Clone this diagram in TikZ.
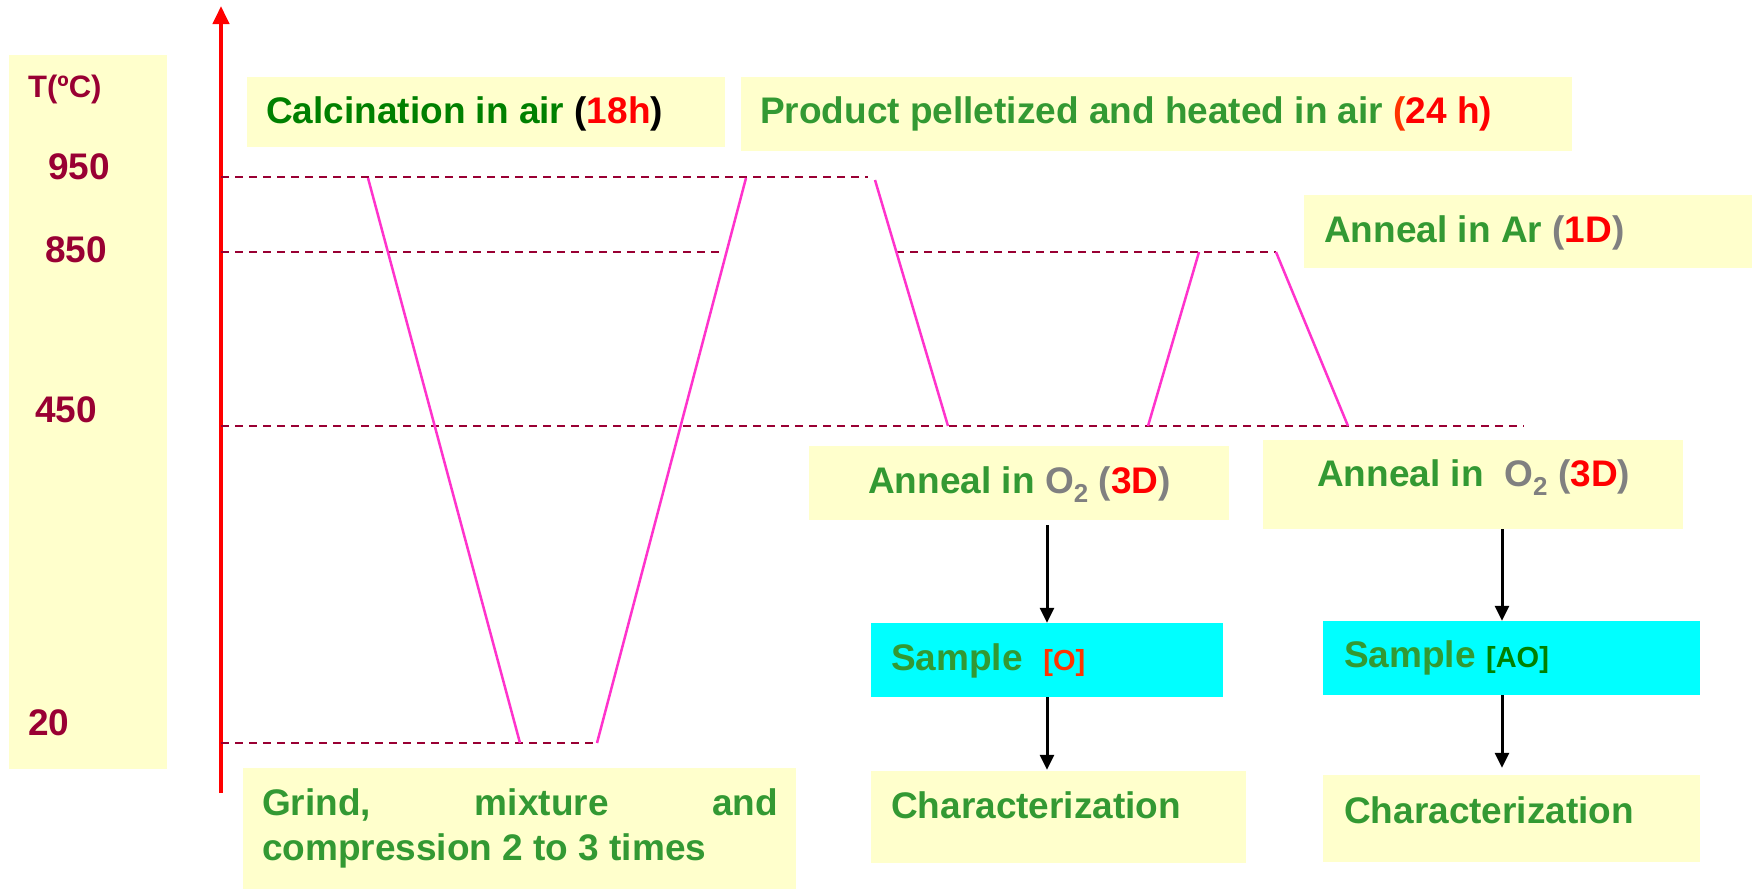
\documentclass[tikz,border=0pt]{standalone}
\usepackage{fontspec}
\setmainfont{Liberation Sans}
\usetikzlibrary{arrows.meta}
\definecolor{greenA}{RGB}{0,128,0}
\definecolor{greenB}{RGB}{51,153,51}
\definecolor{redT}{RGB}{255,0,0}
\definecolor{orangeT}{RGB}{255,51,0}
\definecolor{grayT}{RGB}{128,128,128}
\definecolor{maroon}{RGB}{153,0,51}
\definecolor{pinkL}{RGB}{255,51,204}
\definecolor{lightyel}{RGB}{255,255,204}
\definecolor{cyanB}{RGB}{0,255,255}
\begin{document}
\begin{tikzpicture}[x=1pt,y=-1pt,
  ybox/.style={fill=lightyel,draw=none,inner sep=0,minimum width=#1},
  cbox/.style={fill=cyanB,draw=none,inner sep=0,minimum width=#1},
  txt/.style={inner sep=0,anchor=base west,font=\bfseries\fontsize{37}{44}\selectfont},
  ttxt/.style={inner sep=0,anchor=base west,text=maroon,font=\bfseries\fontsize{37}{44}\selectfont},
  level/.style={draw=maroon,line width=2.7pt,dash pattern=on 8pt off 6pt},
  ramp/.style={draw=pinkL,line width=2.5pt},
  arr/.style={draw=black,line width=3pt,-{Triangle[length=15pt,width=14pt]}},
  axisline/.style={draw=redT,line width=4pt,-{Triangle[length=18pt,width=16pt]}}]
\useasboundingbox (0,0) rectangle (1758,889);

% boxes
\node[ybox=158pt,minimum height=714pt] (col) at (88,412) {};
\node[ybox=478pt,minimum height=70pt] (calc) at (486,112) {};
\node[ybox=831pt,minimum height=74pt] (prod) at (1156.5,114) {};
\node[ybox=448pt,minimum height=73pt] (ar) at (1528,231.5) {};
\node[ybox=553pt,minimum height=121pt] (grind) at (519.5,828.5) {};
\node[ybox=420pt,minimum height=74pt] (a1) at (1019,483) {};
\node[ybox=420pt,minimum height=89pt] (a2) at (1473,484.5) {};
\node[cbox=352pt,minimum height=74pt] (s1) at (1047,660) {};
\node[cbox=377pt,minimum height=74pt] (s2) at (1511.5,658) {};
\node[ybox=375pt,minimum height=92pt] (c1) at (1058.5,817) {};
\node[ybox=377pt,minimum height=87pt] (c2) at (1511.5,818.5) {};

% axis
\coordinate (axbot) at (221,793);
\coordinate (axtop) at (221,6);
\draw[axisline] (axbot) -- (axtop);

% level lines
\coordinate (l950a) at (221,177);
\coordinate (l950b) at (868,177);
\coordinate (l850a) at (221,252);
\coordinate (l850b) at (722,252);
\coordinate (l850c) at (896,252);
\coordinate (l850d) at (1276,252);
\coordinate (l450a) at (221,426);
\coordinate (l450b) at (1524,426);
\coordinate (l20a) at (221,743);
\coordinate (l20b) at (597,743);
\draw[level] (l950a) -- (l950b);
\draw[level] (l850a) -- (l850b);
\draw[level] (l850c) -- (l850d);
\draw[level] (l450a) -- (l450b);
\draw[level] (l20a) -- (l20b);

% temperature ramps
\coordinate (p1) at (368,178);
\coordinate (p2) at (520,743);
\coordinate (p3) at (597,743);
\coordinate (p4) at (746,178);
\coordinate (p5) at (875,180);
\coordinate (p6) at (948,426);
\coordinate (p7) at (1148,426);
\coordinate (p8) at (1199,252);
\coordinate (p9) at (1276,252);
\coordinate (p10) at (1348,426);
\draw[ramp] (p1) -- (p2);
\draw[ramp] (p3) -- (p4);
\draw[ramp] (p5) -- (p6);
\draw[ramp] (p7) -- (p8);
\draw[ramp] (p9) -- (p10);

% temperature labels
\node[ttxt,font=\bfseries\fontsize{31}{36}\selectfont] (tlab) at (28,97) {T(ºC)};
\node[ttxt] (t950) at (48,179) {950};
\node[ttxt] (t850) at (45,262) {850};
\node[ttxt] (t450) at (35,422) {450};
\node[ttxt] (t20) at (28,735) {20};

% texts
\node[txt,text=greenA] (calctxt) at (266,123) {Calcination in air \textcolor{black}{(}\textcolor{redT}{18h}\textcolor{black}{)}};
\node[txt,text=greenB] (prodtxt) at (760,123) {Product pelletized and heated in air \textcolor{orangeT}{(}\textcolor{redT}{24 h)}};
\node[txt,text=greenB] (artxt) at (1324,242) {Anneal in Ar \textcolor{grayT}{(}\textcolor{redT}{1D}\textcolor{grayT}{)}};
\node[txt,text=greenB] (a1txt) at (868,493) {Anneal in \textcolor{grayT}{O\textsubscript{2} (}\textcolor{redT}{3D}\textcolor{grayT}{)}};
\node[txt,text=greenB] (a2txt) at (1317,486) {Anneal in \ \textcolor{grayT}{O\textsubscript{2} (}\textcolor{redT}{3D}\textcolor{grayT}{)}};
\node[txt,text=greenB] (s1txt) at (891,670) {Sample \ \textcolor{orangeT}{\fontsize{29}{32}\selectfont[O]}};
\node[txt,text=greenB] (s2txt) at (1344,667) {Sample \textcolor{greenA}{\fontsize{29}{32}\selectfont[AO]}};
\node[txt,text=greenB] (c1txt) at (891,818) {Characterization};
\node[txt,text=greenB] (c2txt) at (1344,823) {Characterization};
\node[txt,text=greenB] (grind1) at (262,815) {\hbox to 516pt{Grind,\hfill mixture\hfill and}};
\node[txt,text=greenB] (grind2) at (262,860) {compression 2 to 3 times};

% flow arrows
\draw[arr] ([yshift=-5pt]a1.south -| s1.north) -- (s1.north);
\draw[arr] (s1.south) -- ([yshift=1pt]s1.south |- c1.north);
\draw[arr] ([xshift=-9.5pt]s2.north |- a2.south) -- ([xshift=-9.5pt]s2.north);
\draw[arr] ([xshift=-9.5pt]s2.south) -- ([xshift=-9.5pt,yshift=7pt]s2.south |- c2.north);
\end{tikzpicture}
\end{document}
